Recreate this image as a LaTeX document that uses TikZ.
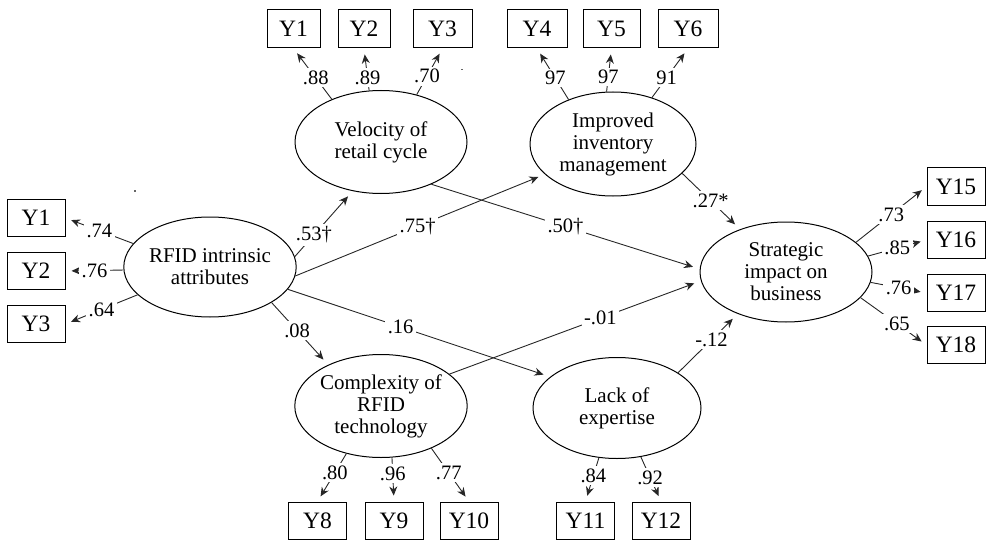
\documentclass[tikz,border=0pt]{standalone}
\usepackage{fontspec}
\setmainfont{Liberation Serif}
\usetikzlibrary{arrows.meta,shapes.geometric}
\begin{document}
\begin{tikzpicture}[x=1pt,y=-1pt,
  lat/.style={draw, ellipse, line width=1pt, inner sep=0pt, align=center,
    font=\fontsize{21}{22}\selectfont},
  obs/.style={draw, line width=1pt, minimum width=58pt, minimum height=37pt,
    inner sep=0pt, font=\fontsize{23.5}{25}\selectfont},
  lab/.style={fill=white, inner sep=2.5pt, font=\fontsize{20.5}{22}\selectfont},
  ld/.style={draw=black!85, line width=0.9pt, -{Stealth[length=9pt,width=8pt]}, shorten >=6pt},
  sp/.style={draw=black!85, line width=0.9pt, -{Stealth[length=9pt,width=8pt]}, shorten >=7pt}]
\useasboundingbox (0,0) rectangle (992,540);

% latent variables
\node[lat, minimum width=172pt, minimum height=100pt] (rfid) at (210,267) {RFID intrinsic\\attributes};
\node[lat, minimum width=172pt, minimum height=103pt] (vel) at (381,142) {Velocity of\\retail cycle};
\node[lat, minimum width=166pt, minimum height=104pt] (imp) at (613,144) {Improved\\inventory\\management};
\node[lat, minimum width=172pt, minimum height=100pt] (str) at (786,272) {Strategic\\impact on\\business};
\node[lat, minimum width=172pt, minimum height=103pt] (cpx) at (381,406) {Complexity of\\RFID\\technology};
\node[lat, minimum width=168pt, minimum height=101pt] (lack) at (617,408) {Lack of\\expertise};

% observed indicators
\node[obs] (l1) at (36,218) {Y1};
\node[obs] (l2) at (36,271) {Y2};
\node[obs] (l3) at (36,324) {Y3};
\node[obs, minimum width=53pt, minimum height=38pt] (t1) at (293.5,29) {Y1};
\node[obs, minimum width=52pt, minimum height=38pt] (t2) at (364,29) {Y2};
\node[obs, minimum width=59pt, minimum height=38pt] (t3) at (442.5,29) {Y3};
\node[obs, minimum width=60pt, minimum height=38pt] (t4) at (537,29) {Y4};
\node[obs, minimum width=57pt, minimum height=38pt] (t5) at (611.5,29) {Y5};
\node[obs, minimum width=60pt, minimum height=38pt] (t6) at (688,29) {Y6};
\node[obs] (r15) at (956,186.5) {Y15};
\node[obs] (r16) at (956,240) {Y16};
\node[obs] (r17) at (956,293) {Y17};
\node[obs] (r18) at (956,345) {Y18};
\node[obs] (b8) at (317.5,520.5) {Y8};
\node[obs] (b9) at (394,520.5) {Y9};
\node[obs] (b10) at (469,520.5) {Y10};
\node[obs] (b11) at (585.5,520.5) {Y11};
\node[obs] (b12) at (661,520.5) {Y12};

% loadings
\draw[ld] (rfid.163) -- node[lab,pos=.5]{.74} (l1.east);
\draw[ld] (rfid.182) -- node[lab,pos=.5]{.76} (l2.east);
\draw[ld] (rfid.201) -- node[lab,pos=.5]{.64} (l3.east);
\draw[ld] (vel.139) -- node[lab,pos=.42]{.88} (t1.south);
\draw[ld] (vel.103) -- node[lab,pos=.31]{.89} (t2.south);
\draw[ld] (vel.53) -- node[lab,pos=.4]{.70} (t3.south);
\draw[ld] (imp.135) -- node[lab,pos=.42]{97} (t4.south);
\draw[ld] (imp.97) -- node[lab,pos=.34]{97} (t5.south);
\draw[ld] (imp.50) -- node[lab,pos=.41]{91} (t6.south);
\draw[ld] (str.23) -- node[lab,pos=.5]{.73} (r15.west);
\draw[ld] (str.11) -- node[lab,pos=.5]{.85} (r16.west);
\draw[ld] (str.353) -- node[lab,pos=.5]{.76} (r17.west);
\draw[ld] (str.341) -- node[lab,pos=.55]{.65} (r18.west);
\draw[ld] (cpx.234) -- node[lab,pos=.4]{.80} (b8.north);
\draw[ld] (cpx.282) -- node[lab,pos=.36]{.96} (b9.north);
\draw[ld] (cpx.320) -- node[lab,pos=.46]{.77} (b10.north);
\draw[ld] (lack.250) -- node[lab,pos=.41]{.84} (b11.north);
\draw[ld] (lack.296) -- node[lab,pos=.46]{.92} (b12.north);

% structural paths
\draw[sp] (rfid.7.5) -- node[lab,pos=.33]{.53†} (vel.240);
\draw[sp] (rfid.354.6) -- node[lab,pos=.49]{.75†} (imp.204);
\draw[sp] (vel.320) -- node[lab,pos=.5]{.50†} (str.178.7);
\draw[sp] (rfid.344.7) -- node[lab,pos=.43]{.16} (lack.155);
\draw[sp] (rfid.330) -- node[lab,pos=.45]{.08} (cpx.142);
\draw[sp] (cpx.25.6) -- node[lab,pos=.6]{-.01} (str.186);
\draw[sp] (imp.337) -- node[lab,pos=.49]{.27*} (str.137);
\draw[sp] (lack.30) -- node[lab,pos=.56]{-.12} (str.221);

% stray specks
\fill[black!60] (133.5,190) rectangle (136,191.5);
\fill[black!60] (461,69) rectangle (463,70.5);
\end{tikzpicture}
\end{document}
